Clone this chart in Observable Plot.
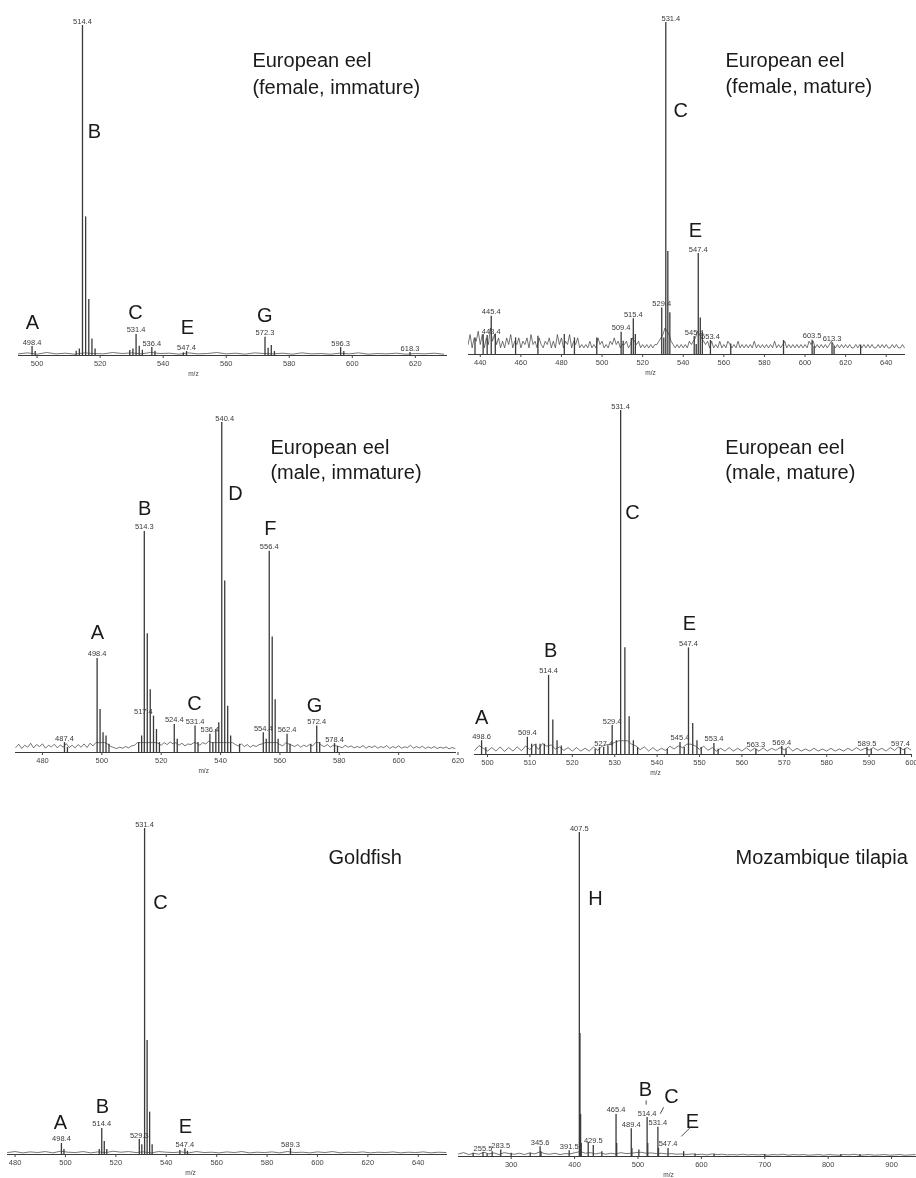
<!DOCTYPE html>
<html><head><meta charset="utf-8">
<script src="https://cdn.jsdelivr.net/npm/d3@7"></script>
<script src="https://cdn.jsdelivr.net/npm/@observablehq/plot@0.6"></script>
<style>
body{margin:0;background:#fff;}
#fig{position:relative;width:916px;height:1178px;overflow:hidden;background:#fff;font-family:"Liberation Sans",Arial,sans-serif;}
.panel{position:absolute;will-change:transform;-webkit-font-smoothing:antialiased;}
.panel svg{overflow:visible;}
</style></head><body><div id="fig"></div>
<script>
// ---------- Panel 1: European eel (female, immature) ----------
const p1Peaks = [[498.4,2.7],[499.4,1.2],[512.4,1.3],[513.4,2.0],[514.4,100],[515.4,42],[516.4,17],[517.4,5],[518.4,2],[529.4,1.5],[530.4,2],[531.4,6.4],[532.4,2.8],[533.4,1.6],[536.4,2.4],[537.4,1.3],[546.4,0.8],[547.4,1.2],[572.3,5.5],[573.3,2.2],[574.3,3],[575.3,1.2],[596.3,2.4],[597.3,1.2],[618.3,0.9]];
const p1Labels = [498.4,514.4,531.4,536.4,547.4,572.3,596.3,618.3];
const p1Letters = [["A",498.5,10],["B",518.2,68],["C",531.2,13],["E",547.7,8.5],["G",572.2,12]];
const p1Titles = [["European eel",568.3,89.4],["(female, immature)",568.3,81.2]];
const p1Ticks = [500,520,540,560,580,600,620];
const p1Noise = [0.5,0.8,0.4,0.9,0.5,0.7,0.4,0.8,0.6,0.5,0.9,0.6,0.8,0.5,0.9,0.6,0.7,0.4,0.8,0.5,0.6,0.9,0.5,0.7,0.4,0.8,0.6,0.5,0.7,0.4,0.8,0.5,0.6,0.4,0.7,0.5,0.8,0.4,0.6,0.5,0.7,0.4,0.6,0.5,0.7,0.4];

// ---------- Panel 2: European eel (female, mature) ----------
const p2Peaks = [[437.4,5],[441.4,6],[443.4,5.7],[445.4,11.5],[447.4,6],[457.4,5],[468.4,5.5],[481.4,6],[486.4,5],[497.4,5],[509.4,6.7],[510.4,4],[514.4,4.8],[515.4,10.8],[516.4,6],[529.4,14],[530.4,5],[531.4,100],[532.4,31],[533.4,12.6],[545.4,5.4],[546.4,3],[547.4,30.4],[548.4,11],[549.4,6.7],[553.4,4.2],[563.4,3.2],[589.4,4.2],[603.5,4.3],[604.5,2.5],[613.3,3.5],[614.3,2.5],[627.4,2.8]];
const p2Labels = [443.4,445.4,509.4,515.4,529.4,531.4,545.4,547.4,553.4,603.5,613.3];
const p2LabelShift = {443.4: 2, 531.4: 2.5};
const p2Letters = [["C",538.7,73.5],["E",546,37.3]];
const p2Titles = [["European eel",560.8,88.6],["(female, mature)",560.8,80.7]];
const p2Ticks = [440,460,480,500,520,540,560,580,600,620,640];
const p2Noise = [
  3,6,2,5,4,7,3,6,2,5,3,8,4,6,3,5,2,
  4,2,5,3,6,2,4,3,5,2,4,3,5,2,6,3,4,2,5,3,
  2,4,3,5,2,4,2,6,3,5,2,4,3,6,2,4,3,5,2,3,
  2,3,2,4,2,3,2,5,3,4,2,3,2,4,3,5,3,4,2,3,
  3,4,2,3,5,4,3,4,2,3,2,3,2,3,2,3,3,4,5,6,
  8,7,6,4,3,2,3,2,3,2,3,2,4,3,4,5,7,6,5,4,
  3,4,2,4,2,3,2,4,2,3,2,4,3,2,3,2,4,2,3,2,
  3,2,3,2,4,2,3,2,3,2,3,2,3,2,4,2,3,2,3,4,
  2,3,2,3,2,3,2,3,2,3,2,4,3,4,2,3,2,3,2,3,
  2,3,4,3,2,3,2,3,2,3,2,3,2,2,3,2,3,2,3,2,
  3,2,3,2,2,3,2,3,2,3,2,2,3,2,3,2,2,3,2];

// ---------- Panel 3: European eel (male, immature) ----------
const p3Peaks = [[487.4,3],[488.4,1.5],[498.4,28.5],[499.4,13],[500.4,6],[501.4,5],[502.4,2.5],[512.4,3],[513.4,5],[514.3,67],[515.3,36],[516.3,19],[517.4,11],[518.4,7],[519.4,3],[524.4,8.5],[525.4,4],[531.4,8],[532.4,3],[536.4,5.5],[537.4,3],[538.4,7],[539.4,9],[540.4,100],[541.4,52],[542.4,14],[543.4,5],[546.4,2.5],[554.4,6],[555.4,4],[556.4,61],[557.4,35],[558.4,16],[559.4,4],[562.4,5.5],[563.4,2.5],[570.4,2.5],[572.4,8],[573.4,3],[578.4,2.7],[579.4,1.8]];
const p3Labels = [487.4,498.4,514.3,517.4,524.4,531.4,536.4,540.4,554.4,556.4,562.4,572.4,578.4];
const p3LabelShift = {517.4: -3.4, 540.4: 1};
const p3Letters = [["A",498.5,36.4],["B",514.4,73.9],["C",531.2,14.8],["D",545.0,78.5],["F",556.8,67.9],["G",571.7,14.2]];
const p3Titles = [["European eel",556.8,92.4],["(male, immature)",556.8,84.8]];
const p3Ticks = [480,500,520,540,560,580,600,620];
const p3Noise = [
  1.5,2.5,1.2,2.2,1.6,2.8,1.4,2.4,1.8,2.6,1.3,2.2,1.7,2.5,1.4,2.3,1.6,2.7,1.5,2.2,
  1.4,2.4,1.6,2.6,1.5,2.8,2.0,3.0,3,3,3,2.5,1.8,1.5,1.2,1.6,1.3,1.8,1.4,2.0,
  2.2,3,3,3,3,3,3,3,2.8,2.2,3.0,2.4,3.2,2.6,3.0,2.2,2.8,2.0,2.6,2.4,
  3,2.8,2.2,3.0,2.6,3.4,3,3,3,3,3,3,3,3,2.4,2.0,2.6,1.8,2.4,1.6,
  2.2,1.8,2.4,2.6,3,3,3,3,3,2.4,2.0,3.0,2.6,2.2,1.8,2.4,1.6,2.2,1.8,2.4,
  2.0,3,3,2.2,1.8,2.4,1.6,2.2,2.0,1.8,1.4,2.2,1.6,2.0,1.4,1.8,1.5,2.1,1.3,1.9,
  1.5,2.0,1.3,1.8,1.5,2.1,1.2,1.8,1.4,2.0,1.3,1.7,1.5,2.2,1.3,1.8,1.4,1.9,1.2,1.7,
  1.3,1.8,1.2,1.6,1.3,1.7,1.1,1.5,1.2];

// ---------- Panel 4: European eel (male, mature) ----------
const p4Peaks = [[498.6,4],[499.6,2],[509.4,5],[510.4,3],[511.4,3],[512.4,3],[513.4,3],[514.4,23],[515.4,10],[516.4,4],[517.4,2.5],[525.4,1.5],[526.4,2],[527.4,2],[528.4,2.5],[529.4,8.4],[530.4,4],[531.4,100],[532.4,31],[533.4,11],[534.4,4],[535.4,2],[542.4,1.5],[545.4,3.5],[546.4,2],[547.4,31],[548.4,9],[549.4,4],[550.4,2],[553.4,3.2],[554.4,1.5],[563.3,1.5],[569.4,2.3],[570.4,1.5],[589.5,2],[590.5,1.5],[597.4,2],[598.4,1.5]];
const p4Labels = [498.6,509.4,514.4,527.4,529.4,531.4,545.4,547.4,553.4,563.3,569.4,589.5,597.4];
const p4Letters = [["A",498.6,10.8],["B",514.9,30.2],["C",534.2,70.3],["E",547.6,38.1]];
const p4Titles = [["European eel",556.1,89.2],["(male, mature)",556.1,82.0]];
const p4Ticks = [500,510,520,530,540,550,560,570,580,590,600];
const p4Noise = [1.2,2.6,1.8,1.0,2.0,1.0,2.2,0.9,2.0,1.0,2.2,1.1,2.5,1.4,3.0,1.5,3.2,2.4,2.8,1.6,2.2,1.2,2.0,1.0,2.0,1.0,1.8,1.0,2.2,1.2,2.4,2.8,3.0,3.5,4,4,4,3,2.5,1.4,2.2,1.0,2.0,1.0,1.8,1.2,2.4,1.6,2.5,2.0,3,3,2.5,1.5,2.4,1.2,2.0,1.0,1.8,1.0,2.0,1.0,1.8,1.0,2.0,1.0,1.8,1.0,1.9,1.0,1.8,1.2,2.0,1.4,2.2,1.0,1.8,1.0,1.6,1.0,1.8,1.0,1.6,1.0,1.8,1.0,1.6,1.0,1.8,1.1,2.0,1.2,1.8,1.3,2.0,1.2,1.8,1.0,2.0,1.2,2.2,1.4,2.0,1.2];

// ---------- Panel 5: Goldfish ----------
const p5Peaks = [[498.4,3.4],[499.4,1.5],[513.4,1.5],[514.4,8],[515.4,4],[516.4,1.5],[529.3,4.6],[530.3,3],[531.4,100],[532.4,35],[533.4,13],[534.4,3],[545.4,1.2],[547.4,1.8],[548.4,1],[589.3,1.8]];
const p5Labels = [498.4,514.4,529.3,531.4,547.4,589.3];
const p5Letters = [["A",498.0,9.8],["B",514.7,14.7],["C",537.7,77.3],["E",547.6,8.6]];
const p5Titles = [["Goldfish",604.4,91.1]];
const p5Ticks = [480,500,520,540,560,580,600,620,640];
const p5Noise = [0.6,0.9,0.5,0.8,0.6,0.9,0.5,1.0,0.7,0.6,0.9,0.5,0.8,0.6,1.0,0.7,0.9,0.6,0.8,0.5,0.9,0.7,0.6,0.8,0.5,0.9,0.6,0.7,0.5,0.8,0.6,0.9,0.5,0.7,0.6,0.8,0.5,0.9,0.6,0.7,0.5,0.8,0.6,0.9,0.5,0.7,0.6,0.8,0.5,0.7,0.6,0.8,0.5,0.7,0.6,0.8,0.5,0.7,0.6];

// ---------- Panel 6: Mozambique tilapia ----------
const p6Peaks = [[240,1],[255.5,1.2],[262,0.8],[270,1.5],[283.5,2],[300,1],[330,1],[345.6,3],[347,1.5],[391.5,1.8],[407.5,100],[408.5,38],[409.5,13],[410.5,4],[421.5,4.3],[429.5,3.4],[443,1.5],[465.4,13],[466.4,4],[489.4,8.6],[490.4,2.5],[501.4,2],[514.4,12],[515.4,4],[531.4,9],[532.4,2.5],[547.4,2.5],[572,1.5],[590,0.8],[620,0.7],[700,0.6],[820,0.6],[850,0.6]];
const p6Labels = [255.5,283.5,345.6,391.5,407.5,429.5,465.4,489.4,514.4,531.4,547.4];
const p6Letters = [["H",433,79.6],["B",511.8,20.7],["C",552.9,18.5],["E",586,10.8]];
const p6Leaders = [[512.9,17.3,512.9,16.0],[540.4,15.2,535.1,13.2],[584.2,9.3,568.4,6.2]];
const p6Titles = [["Mozambique tilapia",653.8,92.3]];
const p6Ticks = [300,400,500,600,700,800,900];
const p6Noise = [0.8,1.2,0.6,1.0,0.7,1.3,0.8,1.1,0.6,1.2,0.9,0.7,1.0,0.6,1.1,0.8,1.4,0.9,0.7,1.0,0.6,0.9,0.8,1.2,1.5,1.0,1.2,0.8,1.1,0.7,1.0,0.8,1.2,0.9,1.0,1.2,1.3,1.0,1.1,0.9,1.0,0.8,0.9,0.7,0.8,0.6,0.8,0.6,0.7,0.5,0.8,0.6,0.7,0.5,0.6,0.5,0.7,0.5,0.6,0.5,0.6,0.4,0.6,0.5,0.7,0.4,0.6,0.5,0.6,0.4,0.5,0.6,0.4,0.6,0.5,0.4,0.6,0.5,0.7,0.4,0.5,0.6,0.4,0.5,0.6,0.4,0.5,0.6,0.4,0.5,0.6];

// ---------- layout ----------
const panels = [
  {peaks:p1Peaks, labels:p1Labels, letters:p1Letters, titles:p1Titles, ticks:p1Ticks, noise:p1Noise, noiseStart:494, noiseStep:3, domain:[494.1,630.2], mzAt:549.6,
   left:0, top:0, w:458, h:380, ml:18, mr:11, mt:25, mb:25},
  {peaks:p2Peaks, labels:p2Labels, shift:p2LabelShift, letters:p2Letters, titles:p2Titles, ticks:p2Ticks, noise:p2Noise, noiseStart:434, noiseStep:1, domain:[434.2,649.5], mzAt:523.9,
   left:458, top:0, w:458, h:380, ml:10, mr:11, mt:22, mb:26},
  {peaks:p3Peaks, labels:p3Labels, shift:p3LabelShift, letters:p3Letters, titles:p3Titles, ticks:p3Ticks, noise:p3Noise, noiseStart:471, noiseStep:1, domain:[470.9,619.5], mzAt:534.3,
   left:0, top:380, w:458, h:398, ml:15, mr:2, mt:42, mb:26},
  {peaks:p4Peaks, labels:p4Labels, letters:p4Letters, titles:p4Titles, ticks:p4Ticks, noise:p4Noise, noiseStart:497, noiseStep:1, domain:[496.93,600], mzAt:539.6,
   left:458, top:380, w:458, h:398, ml:16, mr:5, mt:30, mb:24},
  {peaks:p5Peaks, labels:p5Labels, letters:p5Letters, titles:p5Titles, ticks:p5Ticks, noise:p5Noise, noiseStart:477, noiseStep:3, domain:[477,651.6], mzAt:549.6,
   left:0, top:778, w:458, h:400, ml:7, mr:11, mt:50, mb:24},
  {peaks:p6Peaks, labels:p6Labels, letters:p6Letters, titles:p6Titles, ticks:p6Ticks, noise:p6Noise, noiseStart:217, noiseStep:8, domain:[216.9,939.3], mzAt:548.1, leaders:p6Leaders,
   left:458, top:778, w:458, h:400, ml:0, mr:0, mt:54, mb:22}
];

const INK = "#3a3a3a";
const FONT = "'Liberation Sans', Arial, Helvetica, sans-serif";
const fig = document.getElementById("fig");

for (const p of panels) {
  const lookup = new Map(p.peaks.map(([mz, v]) => [mz, v]));
  const shift = p.shift || {};
  const peakData = p.peaks.map(([mz, v]) => ({mz, v}));
  const labelData = p.labels.map(mz => ({x: mz + (shift[mz] || 0), v: lookup.get(mz), text: mz.toFixed(1)}));
  const noiseData = p.noise.map((v, i) => ({mz: p.noiseStart + i * p.noiseStep, v}));
  const letterData = p.letters.map(([t, mz, v]) => ({t, mz, v}));
  const titleData = p.titles.map(([t, mz, v]) => ({t, mz, v}));
  const marks = [
    Plot.lineY(noiseData, {x: "mz", y: "v", stroke: INK, strokeWidth: 0.7, clip: true}),
    Plot.ruleX(peakData, {x: "mz", y1: 0, y2: "v", stroke: INK, strokeWidth: 1.3}),
    Plot.ruleY([0], {stroke: INK, strokeWidth: 1}),
    Plot.axisX({ticks: p.ticks, tickSize: 3, tickPadding: 2, fontSize: 7.5, label: null, color: "#444", tickFormat: d => String(d)}),
    Plot.text([{t: "m/z", mz: p.mzAt, v: 0}], {x: "mz", y: "v", text: "t", dy: 18, fontSize: 6.5, fill: "#444"}),
    Plot.text(labelData, {x: "x", y: "v", text: "text", lineAnchor: "bottom", dy: -2, fontSize: 7.5, fill: INK}),
    Plot.text(letterData, {x: "mz", y: "v", text: "t", lineAnchor: "middle", fontSize: 20, fill: "#1a1a1a"}),
    Plot.text(titleData, {x: "mz", y: "v", text: "t", lineAnchor: "middle", textAnchor: "start", fontSize: 20, fill: "#1a1a1a"})
  ];
  if (p.leaders) {
    marks.push(Plot.link(p.leaders.map(([x1, y1, x2, y2]) => ({x1, y1, x2, y2})), {x1: "x1", y1: "y1", x2: "x2", y2: "y2", stroke: INK, strokeWidth: 0.9}));
  }
  const chart = Plot.plot({
    width: p.w, height: p.h,
    marginLeft: p.ml, marginRight: p.mr, marginTop: p.mt, marginBottom: p.mb,
    x: {domain: p.domain},
    y: {domain: [0, 100], axis: null},
    style: {fontFamily: FONT, color: INK, background: "transparent", overflow: "visible"},
    marks
  });
  const div = document.createElement("div");
  div.className = "panel";
  div.style.left = p.left + "px";
  div.style.top = p.top + "px";
  div.style.width = p.w + "px";
  div.style.height = p.h + "px";
  div.appendChild(chart);
  fig.appendChild(div);
}
</script>
</body></html>
